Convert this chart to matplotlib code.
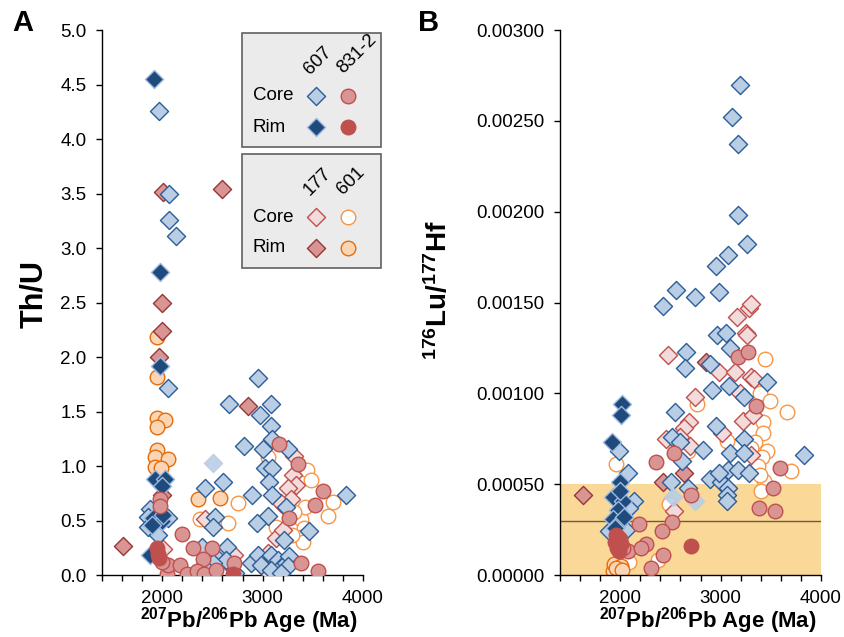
import matplotlib.pyplot as plt
from matplotlib.patches import Rectangle

plt.rcParams['font.family'] = ['Liberation Sans', 'DejaVu Sans']
plt.rcParams['mathtext.default'] = 'regular'

# ---------------- Panel A: Th/U vs age ----------------
a_607_core_age = [1970, 2070, 2070, 2140, 2060, 1880, 1860, 1860, 1960, 2060,
                  2950, 2670, 3080, 2970, 3080, 3090, 2810, 3000, 3250, 3020,
                  3090, 3060, 2610, 3830, 2890, 3090, 2430, 3230, 3050, 2940,
                  2530, 2510, 3460, 3210, 2400, 2650, 2560, 2640, 2880, 2950,
                  2980, 3080, 3150, 3180, 3230, 3260, 3250, 3080, 2510, 2410,
                  2720, 3180]
a_607_core_thu = [4.26, 3.50, 3.26, 3.11, 1.72, 0.61, 0.53, 0.44, 0.37, 0.52,
                  1.81, 1.57, 1.57, 1.47, 1.37, 1.25, 1.18, 1.16, 1.16, 0.98,
                  0.98, 0.85, 0.85, 0.73, 0.73, 0.73, 0.80, 0.62, 0.54, 0.48,
                  0.53, 0.44, 0.40, 0.32, 0.26, 0.26, 0.15, 0.14, 0.11, 0.18,
                  0.09, 0.18, 0.14, 0.07, 0.11, 0.17, 0.08, 0.05, 0.11, 0.08,
                  0.02, 0.02]

a_607_rim_age = [1920, 1980, 1980, 1930, 2030, 2000, 1910, 2000, 2010, 1900, 1880]
a_607_rim_thu = [4.55, 2.78, 1.92, 0.88, 0.88, 0.82, 0.52, 0.50, 0.55, 0.46, 0.18]

a_831_core_age = [1980, 1980, 2050, 2060, 2200, 2310, 2500, 2410, 2180, 2250,
                  2350, 2420, 2540, 2710, 3380, 3550, 3160, 3350, 3600, 3520,
                  3260, 2000]
a_831_core_thu = [0.70, 0.63, 0.01, 0.09, 0.38, 0.25, 0.25, 0.15, 0.09, 0.01,
                  0.04, 0.01, 0.05, 0.11, 0.11, 0.04, 1.20, 1.02, 0.77, 0.64,
                  0.52, 0.12]

a_831_rim_age = [1950, 1970, 1960, 2700]
a_831_rim_thu = [0.25, 0.16, 0.19, 0.01]

a_177_core_age = [2010, 3310, 3300, 3330, 3250, 3280, 3210, 3180, 2430, 3130,
                  3200, 3030, 3050, 2710, 2680]
a_177_core_thu = [0.24, 1.09, 0.92, 0.83, 0.80, 0.70, 0.63, 0.66, 0.51, 0.34,
                  0.41, 0.05, 0.20, 0.18, 0.09]

a_177_rim_age = [2010, 2600, 2000, 2000, 1970, 2850, 2000, 1610]
a_177_rim_thu = [3.51, 3.54, 2.50, 2.24, 2.00, 1.55, 0.73, 0.27]

a_601_core_age = [3050, 3440, 3480, 2750, 3700, 3650, 2660, 2380, 3380, 3410,
                  3130, 3380, 3420, 3310, 3400, 3290]
a_601_core_thu = [1.08, 0.96, 0.87, 0.66, 0.67, 0.54, 0.48, 0.51, 0.51, 0.43,
                  0.44, 0.35, 0.62, 0.58, 0.30, 0.37]

a_601_rim_age = [1950, 1950, 1950, 2030, 1950, 1950, 1930, 2060, 1930, 1990, 2360, 2580]
a_601_rim_thu = [2.18, 1.82, 1.44, 1.42, 1.36, 1.15, 1.08, 1.06, 0.99, 0.98, 0.70, 0.71]

a_faint_age = [2510]
a_faint_thu = [1.03]

# ---------------- Panel B: 176Lu/177Hf vs age ----------------
b_607_core_age = [3190, 3110, 3170, 3170, 3260, 3070, 2950, 2560, 2740, 2980,
                  2430, 2960, 3050, 3090, 2660, 2650, 2890, 3460, 2910, 3080,
                  3230, 2550, 2950, 3230, 2520, 2600, 2820, 3090, 3230, 2620,
                  3830, 2510, 2680, 2890, 3000, 3070, 3170, 3280, 3070, 3060,
                  3060, 2980, 1990, 2080, 2140, 2090, 1890, 2010, 2060]
b_607_core_lu = [0.00270, 0.00252, 0.00237, 0.00198, 0.00182, 0.00176, 0.00170,
                 0.00157, 0.00153, 0.00156, 0.00148, 0.00132, 0.00133, 0.00125,
                 0.00123, 0.00114, 0.00116, 0.00106, 0.00102, 0.00104, 0.00098,
                 0.00090, 0.00082, 0.00075, 0.00076, 0.00073, 0.00069, 0.00067,
                 0.00067, 0.00063, 0.00066, 0.00051, 0.00048, 0.00053, 0.00051,
                 0.00058, 0.00058, 0.00056, 0.00048, 0.00044, 0.00041, 0.00056,
                 0.00068, 0.00056, 0.00041, 0.00037, 0.00024, 0.00025, 0.00025]

b_607_rim_age = [2020, 2010, 1920, 2000, 1930, 2030, 1980, 1930, 1980, 2040, 1950, 2000]
b_607_rim_lu = [0.00094, 0.00088, 0.00073, 0.00051, 0.00043, 0.00041, 0.00036,
                0.00031, 0.00028, 0.00032, 0.00026, 0.00046]

b_831_core_age = [3170, 3270, 3350, 2540, 2360, 3590, 3520, 3380, 3540, 2710,
                  2520, 2420, 2260, 2430, 2310, 2190, 2080, 2210, 2030]
b_831_core_lu = [0.00120, 0.00123, 0.00093, 0.00067, 0.00062, 0.00059, 0.00048,
                 0.00037, 0.00035, 0.00044, 0.00029, 0.00024, 0.00017, 0.00011,
                 0.00004, 0.00028, 0.00013, 0.00015, 0.00015]

b_831_rim_age = [1980, 1950, 2010, 1990, 1960, 2000, 1970, 2710]
b_831_rim_lu = [0.00021, 0.00018, 0.00017, 0.00013, 0.00022, 0.00020, 0.00015, 0.00016]

b_177_core_age = [3280, 3300, 3160, 3250, 3260, 2480, 2980, 3140, 3300, 3330,
                  3190, 2740, 3220, 3320, 2690, 2640, 3010, 2700, 2460, 2600,
                  2540, 3300]
b_177_core_lu = [0.00147, 0.00149, 0.00142, 0.00133, 0.00132, 0.00121, 0.00112,
                 0.00112, 0.00109, 0.00108, 0.00100, 0.00098, 0.00085, 0.00088,
                 0.00084, 0.00081, 0.00078, 0.00071, 0.00075, 0.00076, 0.00035,
                 0.00066]

b_177_rim_age = [2850, 2640, 2430, 1630]
b_177_rim_lu = [0.00117, 0.00056, 0.00051, 0.00044]

b_601_core_age = [3440, 3390, 3490, 3660, 2760, 3420, 3420, 3460, 3410, 3370,
                  3430, 3400, 3340, 3060, 2680, 3700, 2490, 1960, 2090, 2380,
                  3390, 3300]
b_601_core_lu = [0.00119, 0.00100, 0.00096, 0.00090, 0.00094, 0.00084, 0.00078,
                 0.00068, 0.00065, 0.00060, 0.00052, 0.00046, 0.00073, 0.00074,
                 0.00068, 0.00057, 0.00039, 0.00061, 0.00007, 0.00008, 0.00055,
                 0.00070]

b_601_rim_age = [1930, 1940, 2010, 1960, 2020]
b_601_rim_lu = [0.00002, 0.00006, 0.00005, 0.00004, 0.00003]

b_faint_age = [2530, 2740]
b_faint_lu = [0.00043, 0.00041]

chur_band = (0.0, 0.0005)
chur_line = 0.0003

# marker styles: (marker, face, edge, size)
sty = {
    '601c': ('o', 'white', '#f79646', 110),
    '601r': ('o', '#fcd5b4', '#e46c0a', 110),
    '177c': ('D', '#f2dcdb', '#c0504d', 85),
    '177r': ('D', '#d99594', '#953735', 85),
    '607c': ('D', '#b9cde5', '#2c5d96', 85),
    '607r': ('D', '#1f4a7c', '#9dbbe0', 85),
    '831c': ('o', '#d99594', '#c0504d', 110),
    '831r': ('o', '#c0504d', '#c0504d', 110),
}


def pts(ax, x, y, key, z):
    m, fc, ec, s = sty[key]
    ax.scatter(x, y, marker=m, s=s, facecolor=fc, edgecolor=ec, linewidth=1.0, zorder=z)


def style_axes(ax):
    ax.set_xlim(1400, 4000)
    ax.set_xticks(range(1400, 4001, 200))
    ax.set_xticklabels([str(v) if v % 1000 == 0 else '' for v in range(1400, 4001, 200)])
    for s in ['top', 'right']:
        ax.spines[s].set_visible(False)
    for s in ['left', 'bottom']:
        ax.spines[s].set_linewidth(1.0)
    ax.tick_params(direction='out', length=4, width=1, labelsize=13.5, pad=7)
    ax.patch.set_alpha(0)


fig = plt.figure(figsize=(8.45, 6.37), dpi=100)

axA = fig.add_axes([0.1207, 0.0973, 0.3089, 0.8556])
pts(axA, a_601_core_age, a_601_core_thu, '601c', 2)
pts(axA, a_601_rim_age, a_601_rim_thu, '601r', 2)
pts(axA, a_177_core_age, a_177_core_thu, '177c', 3)
pts(axA, a_177_rim_age, a_177_rim_thu, '177r', 3)
pts(axA, a_607_core_age, a_607_core_thu, '607c', 4)
pts(axA, a_607_rim_age, a_607_rim_thu, '607r', 4)
axA.scatter(a_faint_age, a_faint_thu, marker='D', s=85, color='#b9cde5', alpha=0.9, zorder=4)
pts(axA, a_831_core_age, a_831_core_thu, '831c', 5)
pts(axA, a_831_rim_age, a_831_rim_thu, '831r', 5)
style_axes(axA)
axA.set_ylim(0, 5)
axA.set_yticks([i * 0.5 for i in range(11)])
axA.set_yticklabels(['%.1f' % (i * 0.5) for i in range(11)])

axB = fig.add_axes([0.6627, 0.0973, 0.3089, 0.8556])
axB.axhspan(chur_band[0], chur_band[1], color='#fad898', lw=0, zorder=0)
axB.axhline(chur_line, color='#6b5a45', lw=1.0, zorder=1)
pts(axB, b_601_core_age, b_601_core_lu, '601c', 2)
pts(axB, b_601_rim_age, b_601_rim_lu, '601r', 2)
pts(axB, b_177_core_age, b_177_core_lu, '177c', 3)
pts(axB, b_177_rim_age, b_177_rim_lu, '177r', 3)
pts(axB, b_607_core_age, b_607_core_lu, '607c', 4)
pts(axB, b_607_rim_age, b_607_rim_lu, '607r', 4)
axB.scatter(b_faint_age, b_faint_lu, marker='D', s=85, color='#b9cde5', alpha=0.9, zorder=4)
pts(axB, b_831_core_age, b_831_core_lu, '831c', 5)
pts(axB, b_831_rim_age, b_831_rim_lu, '831r', 5)
style_axes(axB)
axB.set_ylim(0, 0.003)
axB.set_yticks([i * 0.0005 for i in range(7)])
axB.set_yticklabels(['%.5f' % (i * 0.0005) for i in range(7)])

# overlay in pixel coordinates for labels and the two legend boxes
ov = fig.add_axes([0, 0, 1, 1], zorder=10)
ov.set_xlim(0, 845)
ov.set_ylim(637, 0)
ov.axis('off')

ov.text(12, 23, 'A', fontsize=21, fontweight='bold', va='center', ha='left')
ov.text(418, 23, 'B', fontsize=21, fontweight='bold', va='center', ha='left')
ov.text(34, 294, 'Th/U', fontsize=22, fontweight='bold', rotation=90, va='center', ha='center')
ov.text(439, 290, r'$^{176}$Lu/$^{177}$Hf', fontsize=20, fontweight='bold', rotation=90,
        va='center', ha='center')
ov.text(249, 621, r'$^{207}$Pb/$^{206}$Pb Age (Ma)', fontsize=16, fontweight='bold',
        va='center', ha='center')
ov.text(708, 621, r'$^{207}$Pb/$^{206}$Pb Age (Ma)', fontsize=16, fontweight='bold',
        va='center', ha='center')

legend_boxes = [
    (33, ['607', '831-2'], [('607c', '831c'), ('607r', '831r')]),
    (154, ['177', '601'], [('177c', '601c'), ('177r', '601r')]),
]
for top, names, rows in legend_boxes:
    ov.add_patch(Rectangle((242, top), 139, 114, facecolor='#ebebeb', edgecolor='#606060', lw=1.2))
    ov.text(310, top + 42, names[0], fontsize=13.5, rotation=45, rotation_mode='anchor',
            ha='left', va='baseline')
    ov.text(343, top + 41, names[1], fontsize=13.5, rotation=45, rotation_mode='anchor',
            ha='left', va='baseline')
    for j, (lab, keys) in enumerate(zip(['Core', 'Rim'], rows)):
        yy = top + 63 + j * 31
        ov.text(253, yy, lab, fontsize=13.5, va='center', ha='left')
        for xx, k in zip([316, 348], keys):
            m, fc, ec, s = sty[k]
            ov.scatter([xx], [yy], marker=m, s=s, facecolor=fc, edgecolor=ec, linewidth=1.0)

fig.savefig('out.png', dpi=100)
